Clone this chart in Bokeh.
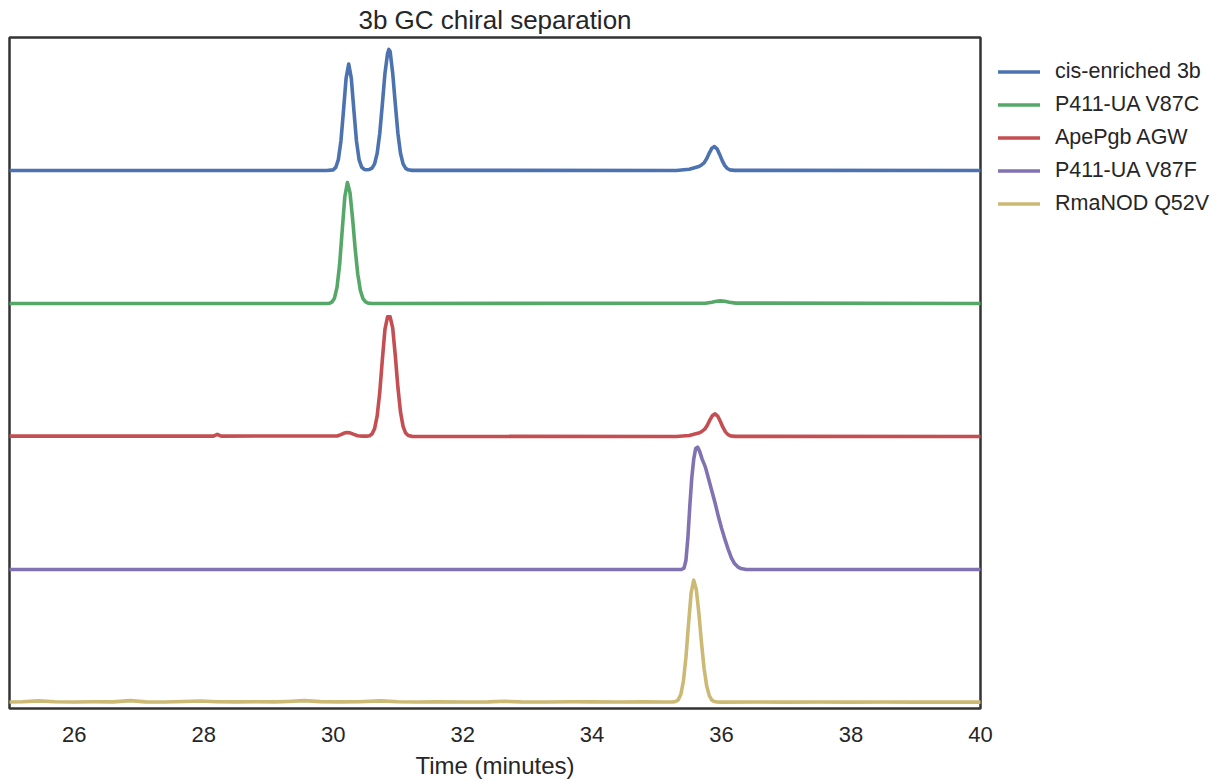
from bokeh.plotting import figure
from bokeh.models import Legend, LegendItem, FixedTicker, Range1d
from bokeh.embed import file_html
from bokeh.resources import INLINE

# ---- data (intensities normalised, baseline = 0) ----
labels = ["cis-enriched 3b", "P411-UA V87C", "ApePgb AGW", "P411-UA V87F", "RmaNOD Q52V"]
colors = ["#4C72B0", "#55A868", "#C44E52", "#8172B2", "#CCB974"]
offsets = [4, 3, 2, 1, 0]
x_ticks = [26, 28, 30, 32, 34, 36, 38, 40]

t_blue = [25.0, 29.9, 30.00, 30.04, 30.08, 30.12, 30.16, 30.20, 30.24, 30.28, 30.32, 30.36, 30.40,
          30.44, 30.48, 30.52, 30.56, 30.60, 30.64, 30.68, 30.72, 30.76, 30.80, 30.84, 30.86, 30.88,
          30.92, 30.96, 31.00, 31.04, 31.08, 31.12, 31.16, 31.22, 35.30, 35.50, 35.65, 35.69, 35.73,
          35.77, 35.81, 35.85, 35.89, 35.93, 35.97, 36.01, 36.05, 36.09, 36.13, 36.20, 40.0]
v_blue = [0.0, 0.0, 0.005, 0.023, 0.082, 0.222, 0.453, 0.694, 0.800, 0.694, 0.453, 0.222, 0.082,
          0.025, 0.008, 0.006, 0.008, 0.018, 0.050, 0.130, 0.280, 0.500, 0.730, 0.880, 0.910, 0.895,
          0.730, 0.500, 0.280, 0.130, 0.050, 0.016, 0.005, 0.001, 0.0, 0.010, 0.030, 0.042, 0.057,
          0.089, 0.131, 0.168, 0.180, 0.163, 0.121, 0.074, 0.037, 0.015, 0.005, 0.001, 0.0]

t_green = [25.0, 29.9, 29.94, 29.98, 30.02, 30.06, 30.10, 30.14, 30.18, 30.22, 30.26, 30.30, 30.34,
           30.38, 30.42, 30.46, 30.50, 30.54, 30.60, 35.75, 35.85, 35.92, 35.98, 36.05, 36.12, 36.22, 40.0]
v_green = [0.0, 0.0, 0.002, 0.010, 0.040, 0.123, 0.295, 0.552, 0.803, 0.910, 0.833, 0.638, 0.410,
           0.220, 0.099, 0.037, 0.012, 0.003, 0.0, 0.002, 0.010, 0.017, 0.020, 0.017, 0.010, 0.003, 0.0]

t_red = [25.0, 28.15, 28.21, 28.27, 30.06, 30.12, 30.17, 30.22, 30.27, 30.32, 30.38, 30.45, 30.52,
         30.56, 30.60, 30.64, 30.68, 30.72, 30.76, 30.80, 30.84, 30.88, 30.92, 30.96, 31.00, 31.04,
         31.08, 31.12, 31.16, 31.22, 35.30, 35.50, 35.66, 35.70, 35.74, 35.78, 35.82, 35.86, 35.90,
         35.94, 35.98, 36.02, 36.06, 36.10, 36.14, 36.21, 40.0]
v_red = [0.003, 0.003, 0.016, 0.003, 0.004, 0.014, 0.026, 0.030, 0.026, 0.016, 0.006, 0.003, 0.003,
         0.006, 0.019, 0.059, 0.155, 0.334, 0.580, 0.806, 0.900, 0.900, 0.815, 0.607, 0.370, 0.185,
         0.076, 0.026, 0.007, 0.001, 0.0, 0.008, 0.028, 0.040, 0.055, 0.085, 0.125, 0.158, 0.170,
         0.154, 0.115, 0.070, 0.035, 0.014, 0.005, 0.001, 0.0]

t_purple = [25.0, 35.38, 35.42, 35.45, 35.48, 35.51, 35.54, 35.57, 35.60, 35.63, 35.66, 35.70, 35.75,
            35.80, 35.85, 35.90, 35.95, 36.00, 36.05, 36.10, 36.15, 36.20, 36.25, 36.30, 36.38, 40.0]
v_purple = [0.0, 0.0, 0.01, 0.07, 0.24, 0.48, 0.69, 0.83, 0.91, 0.92, 0.89, 0.83, 0.77,
            0.68, 0.59, 0.50, 0.40, 0.31, 0.23, 0.155, 0.09, 0.045, 0.02, 0.007, 0.0, 0.0]

t_yellow = [25.0, 25.2, 25.45, 25.7, 26.0, 26.3, 26.6, 26.87, 27.1, 27.4, 27.7, 27.95, 28.2, 28.5,
            28.8, 29.1, 29.3, 29.55, 29.8, 30.1, 30.4, 30.73, 31.0, 31.3, 31.6, 32.0, 32.4, 32.65,
            32.9, 33.3, 33.7, 34.0, 34.4, 34.8, 35.1, 35.25, 35.29, 35.33, 35.37, 35.41, 35.45, 35.49,
            35.53, 35.57, 35.61, 35.65, 35.69, 35.73, 35.77, 35.81, 35.85, 35.89, 35.93, 36.0, 36.5,
            37.0, 37.5, 38.0, 38.5, 39.0, 39.5, 40.0]
v_yellow = [0.004, 0.006, 0.012, 0.006, 0.004, 0.006, 0.005, 0.014, 0.005, 0.004, 0.008, 0.011, 0.006, 0.005,
            0.006, 0.005, 0.008, 0.014, 0.007, 0.005, 0.006, 0.012, 0.006, 0.004, 0.005, 0.004, 0.005, 0.009,
            0.005, 0.004, 0.006, 0.005, 0.004, 0.005, 0.004, 0.005, 0.008, 0.020, 0.060, 0.158, 0.341, 0.593,
            0.825, 0.920, 0.849, 0.668, 0.448, 0.256, 0.125, 0.052, 0.018, 0.007, 0.004, 0.003, 0.004,
            0.003, 0.004, 0.003, 0.004, 0.003, 0.003, 0.003]

series_t = [t_blue, t_green, t_red, t_purple, t_yellow]
series_v = [v_blue, v_green, v_red, v_purple, v_yellow]

FONT = "Liberation Sans"
TXT = "#262626"

p = figure(frame_width=971, frame_height=671, output_backend="svg", toolbar_location=None,
           x_range=Range1d(25, 40), y_range=Range1d(-0.045, 5.0),
           y_axis_location=None, title="3b GC chiral separation",
           min_border_left=9, min_border_right=0, min_border_top=37, min_border_bottom=71)

p.background_fill_color = "white"
p.border_fill_color = "white"
p.outline_line_color = "#333333"
p.outline_line_width = 2.5
p.xgrid.visible = False
p.ygrid.visible = False

p.title.text_font = FONT
p.title.text_font_size = "26px"
p.title.text_font_style = "normal"
p.title.text_color = TXT
p.title.align = "center"
p.title.standoff = 5

ax = p.xaxis[0]
ax.ticker = FixedTicker(ticks=x_ticks)
ax.axis_line_color = None
ax.major_tick_line_color = None
ax.minor_tick_line_color = None
ax.major_tick_out = 0
ax.major_tick_in = 0
ax.major_label_standoff = 18
ax.major_label_text_font = FONT
ax.major_label_text_font_size = "22px"
ax.major_label_text_color = TXT
ax.axis_label = "Time (minutes)"
ax.axis_label_text_font = FONT
ax.axis_label_text_font_size = "24px"
ax.axis_label_text_font_style = "normal"
ax.axis_label_text_color = TXT
ax.axis_label_standoff = 7

items = []
for lab, col, off, ts, vs in zip(labels, colors, offsets, series_t, series_v):
    ys = [v + off for v in vs]
    r = p.line(ts, ys, line_color=col, line_width=3.6, line_join="round", line_cap="round")
    items.append(LegendItem(label=lab, renderers=[r]))

legend = Legend(items=items, location="top_left")
legend.background_fill_alpha = 0
legend.border_line_color = None
legend.padding = 0
legend.margin = 18
legend.spacing = 0
legend.glyph_width = 42
legend.glyph_height = 33
legend.label_height = 33
legend.label_standoff = 15
legend.label_text_font = FONT
legend.label_text_font_size = "21.5px"
legend.label_text_color = TXT
p.add_layout(legend, "right")

open("out.html", "w").write(file_html(p, INLINE))
